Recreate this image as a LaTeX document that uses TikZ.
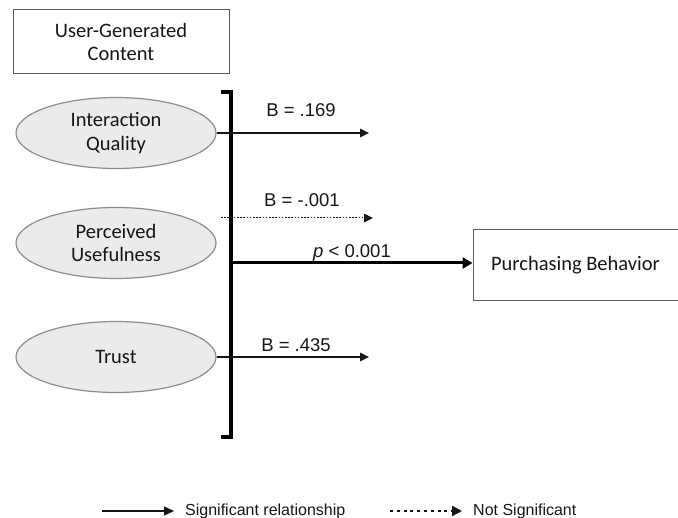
\documentclass[tikz,border=0pt]{standalone}
\usepackage{fontspec}
\setmainfont{Liberation Sans}
\newfontfamily\calibri{Carlito}
\usetikzlibrary{shapes.geometric,arrows.meta}
\definecolor{ink}{HTML}{161616}
\definecolor{boxline}{HTML}{5A5A5A}
\definecolor{ovalline}{HTML}{8C8C8C}
\definecolor{ovalfill}{HTML}{EBEBEB}
\tikzset{
  box/.style={draw=boxline, line width=1pt, fill=white, align=center,
    inner sep=0pt, font=\calibri\fontsize{20.5}{23.5}\selectfont, text=ink},
  construct/.style={ellipse, draw=ovalline, line width=1.2pt, fill=ovalfill,
    minimum width=200pt, minimum height=71pt, inner sep=0pt, align=center,
    font=\calibri\fontsize{20.5}{23.5}\selectfont, text=ink},
  sig/.style={draw=ink, line width=1.4pt, -{Triangle[length=9pt,width=8.5pt]}},
  nonsig/.style={draw=ink, line width=1pt, dash pattern=on 1.6pt off 1.6pt,
    -{Triangle[length=9pt,width=8.5pt]}},
  main/.style={draw=black, line width=3pt, -{Triangle[length=10pt,width=11pt]}},
  bracketline/.style={draw=black, line width=3.4pt, line cap=butt, line join=miter},
  coef/.style={anchor=base, font=\fontsize{18.5}{21}\selectfont, text=ink, inner sep=0pt},
  legtext/.style={anchor=base west, font=\fontsize{16}{18}\selectfont, text=ink, inner sep=0pt},
  legsig/.style={draw=ink, line width=1.4pt, -{Triangle[length=10pt,width=9pt]}},
  legnon/.style={draw=ink, line width=2.6pt, dash pattern=on 3pt off 3.8pt,
    -{Triangle[length=10pt,width=10pt]}}
}
\begin{document}
\begin{tikzpicture}[x=1pt,y=-1pt]
\useasboundingbox (0,0) rectangle (678,518);

% title box and constructs
\node[box, minimum width=216pt, minimum height=64pt] (ugc) at (121,42) {User-Generated\\Content};
\node[construct] (iq) at (116,133) {Interaction\\Quality};
\node[construct] (pu) at (116,243) {Perceived\\Usefulness};
\node[construct] (tr) at (116,357) {Trust};

% outcome box
\node[box, minimum width=205pt, minimum height=71pt] (pb) at (575.5,265.5) {Purchasing Behavior};

% bracket grouping the three constructs
\coordinate (btop) at (221,92);
\coordinate (bbot) at (221,437);
\coordinate (bmid) at (231,263);
\draw[bracketline] (btop) -- (231,92) -- (231,437) -- (bbot);

% path ends
\coordinate (iqend) at (369,133);
\coordinate (pustart) at (221,218);
\coordinate (puend) at (373,218);
\coordinate (trend) at (369,357);

% paths
\draw[sig] (iq.east) -- (iqend);
\draw[nonsig] (pustart) -- (puend);
\draw[sig] (tr.east) -- (trend);
\draw[main] (bmid) -- (bmid -| pb.west);

% coefficients
\node[coef] (b1) at (301,117) {B = .169};
\node[coef] (b2) at (302,207) {B = -.001};
\node[coef] (b3) at (352,258) {\textit{p} < 0.001};
\node[coef] (b4) at (296,352) {B = .435};

% legend
\coordinate (la) at (102,511);
\coordinate (lb) at (174,511);
\coordinate (lc) at (390,511);
\coordinate (ld) at (462,511);
\draw[legsig] (la) -- (lb);
\draw[legnon] (lc) -- (ld);
\node[legtext] (lt1) at (185,516) {Significant relationship};
\node[legtext] (lt2) at (473,516) {Not Significant};
\end{tikzpicture}
\end{document}
